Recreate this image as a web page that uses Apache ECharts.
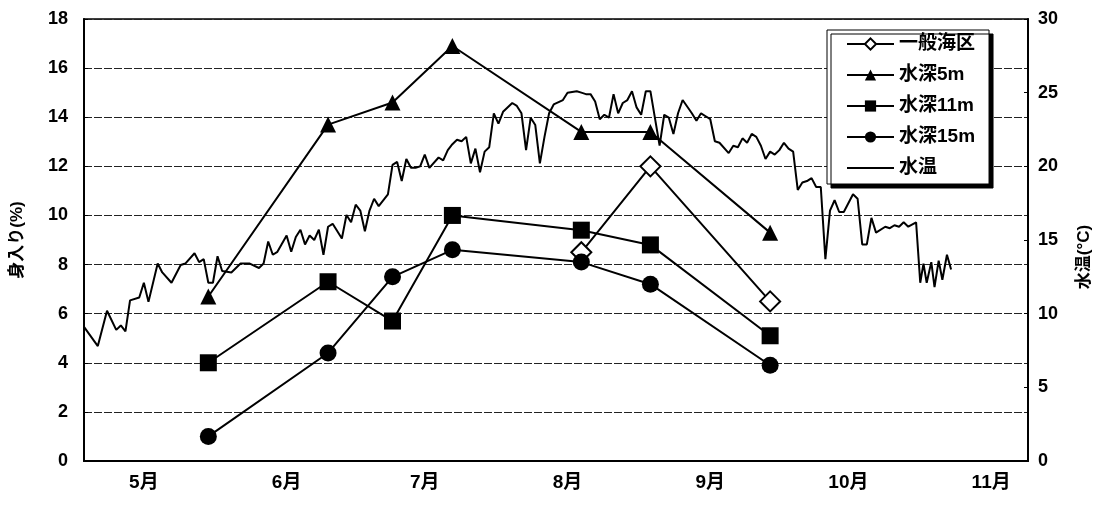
<!DOCTYPE html>
<html>
<head>
<meta charset="utf-8">
<script src="https://cdn.jsdelivr.net/npm/echarts@6/dist/echarts.min.js"></script>
<style>
  html, body { margin: 0; padding: 0; background: #fff; }
  #chart { width: 1101px; height: 506px; }
</style>
</head>
<body>
<div id="chart"></div>
<script>
// x values are day-of-year (non-leap year): 121 = 5/1
const monthStarts = [121, 152, 182, 213, 244, 274, 305];
const monthLabels = ['5月', '6月', '7月', '8月', '9月', '10月', '11月'];

// survey dates (5/15, 6/10, 6/24, 7/7, 8/4, 8/19, 9/14)
const sampleDays = [135, 161, 175, 188, 216, 231, 257];
const generalArea = [null, null, null, null, 8.5, 12.0, 6.5];
const depth5m  = [6.7, 13.7, 14.6, 16.9, 13.4, 13.4, 9.3];
const depth11m = [4.0, 7.3, 5.7, 10.0, 9.4, 8.8, 5.1];
const depth15m = [1.0, 4.4, 7.5, 8.6, 8.1, 7.2, 3.9];

// water temperature record (°C)
const tempDays = [
  108, 111, 113, 115, 116, 117, 118, 120, 121, 122, 124, 125, 127, 129, 130,
  132, 133, 134, 135, 136, 137, 138, 140, 142, 144, 146, 147, 148, 149, 150,
  152, 153, 154, 155, 156, 157, 158, 159, 160, 161, 162, 164, 165, 166, 167,
  168, 169, 170, 171, 172, 174, 175, 176, 177, 178, 179, 180, 181, 182, 183,
  185, 186, 187, 188, 189, 190, 191, 192, 193, 194, 195, 196, 197, 198, 199,
  201, 202, 203, 204, 205, 206, 207, 208, 209, 210, 212, 213, 215, 216, 217,
  218, 219, 220, 221, 222, 223, 224, 225, 226, 227, 228, 229, 230, 231, 233,
  234, 235, 236, 237, 238, 240, 241, 242, 243, 244, 245, 246, 248, 249, 250,
  251, 252, 253, 254, 255, 256, 257, 258, 259, 260, 261, 262, 263, 264, 265,
  266, 267, 268, 269, 270, 271, 272, 273, 275, 276, 277, 278, 279, 280, 282,
  283, 284, 285, 286, 287, 288.7, 289.6, 290.3, 291, 292, 292.7, 293.6, 294.4, 295.4, 296.3
];
const tempValues = [
  9.1, 7.8, 10.2, 8.9, 9.2, 8.8, 10.9, 11.1, 12.1, 10.8, 13.4, 12.8, 12.1, 13.3, 13.4,
  14.1, 13.5, 13.7, 12.1, 12.1, 13.9, 12.9, 12.8, 13.4, 13.4, 13.1, 13.4, 14.9, 14.0, 14.2,
  15.3, 14.2, 15.2, 15.7, 14.7, 15.3, 15.0, 15.7, 14.0, 15.9, 16.1, 15.1, 16.7, 16.2, 17.4,
  17.0, 15.6, 17.0, 17.8, 17.3, 18.1, 20.1, 20.3, 19.0, 20.5, 19.9, 19.9, 20.0, 20.8, 19.9,
  20.6, 20.4, 21.1, 21.5, 21.8, 21.7, 22.0, 20.2, 21.2, 19.6, 21.0, 21.3, 23.6, 22.9, 23.7,
  24.3, 24.1, 23.6, 21.1, 23.3, 22.8, 20.2, 22.0, 23.6, 24.2, 24.5, 25.0, 25.1, 25.0, 24.9,
  24.9, 24.4, 23.2, 23.5, 23.3, 24.9, 23.6, 24.3, 24.5, 25.1, 24.0, 23.5, 25.1, 25.1, 21.4,
  23.5, 23.3, 22.2, 23.6, 24.5, 23.6, 23.1, 23.6, 23.4, 23.2, 21.7, 21.6, 20.9, 21.4, 21.3,
  21.9, 21.6, 22.2, 22.0, 21.4, 20.5, 21.0, 20.8, 21.1, 21.6, 21.2, 21.0, 18.4, 18.9, 19.0,
  19.2, 18.6, 18.6, 13.7, 17.0, 17.7, 16.9, 16.9, 18.1, 17.8, 14.7, 14.7, 16.5, 15.5, 15.9,
  15.8, 16.0, 15.9, 16.2, 15.9, 16.2, 12.1, 13.4, 12.1, 13.5, 11.8, 13.6, 12.3, 14.0, 13.0
];

const FONT = '"Liberation Sans", "Noto Sans CJK JP", sans-serif';

function pairs(days, values) {
  const out = [];
  for (let i = 0; i < days.length; i++) {
    if (values[i] !== null) out.push([days[i], values[i]]);
  }
  return out;
}

const lineStyle = { color: '#000', width: 2 };

const chart = echarts.init(document.getElementById('chart'), null, { renderer: 'canvas' });
chart.setOption({
  animation: false,
  backgroundColor: '#fff',
  textStyle: { fontFamily: FONT },
  grid: {
    left: 84, right: 73, top: 19, bottom: 45,
    show: true, borderColor: '#000', borderWidth: 1.5, backgroundColor: 'transparent'
  },
  legend: {
    orient: 'vertical',
    left: 827, top: 30,
    data: [
      '一般海区', '水深5m', '水深11m', '水深15m',
      { name: '水温', itemStyle: { opacity: 0 } }
    ],
    backgroundColor: '#fff',
    borderColor: '#000', borderWidth: 1,
    shadowColor: '#000', shadowBlur: 0, shadowOffsetX: 4, shadowOffsetY: 4,
    padding: [4, 14, 6, 19],
    itemWidth: 47, itemHeight: 14, itemGap: 11,
    textStyle: { fontFamily: FONT, fontSize: 19, fontWeight: 'bold', color: '#000', lineHeight: 20 }
  },
  xAxis: {
    type: 'value', min: 108, max: 313,
    axisLine: { lineStyle: { color: '#000', width: 2 } },
    axisTick: { show: false },
    splitLine: { show: false },
    axisLabel: {
      customValues: monthStarts,
      formatter: v => monthLabels[monthStarts.indexOf(v)],
      fontFamily: FONT, fontSize: 19, fontWeight: 'bold', color: '#000', margin: 12
    }
  },
  yAxis: [
    {
      type: 'value', min: 0, max: 18, interval: 2,
      name: '身入り(%)', nameLocation: 'middle', nameRotate: 90, nameGap: 58,
      nameTextStyle: { fontFamily: FONT, fontSize: 17, fontWeight: 'bold', color: '#000' },
      axisLine: { show: true, lineStyle: { color: '#000', width: 2 } },
      axisTick: { show: true, inside: true, length: 4, lineStyle: { color: '#000' } },
      axisLabel: { fontFamily: FONT, fontSize: 18, fontWeight: 'bold', color: '#000', margin: 16 },
      splitLine: { show: true, lineStyle: { color: '#222', width: 1, type: [8, 2] } }
    },
    {
      type: 'value', min: 0, max: 30, interval: 5, position: 'right',
      name: '水温(°C)', nameLocation: 'middle', nameRotate: 90, nameGap: 48,
      nameTextStyle: { fontFamily: FONT, fontSize: 17, fontWeight: 'bold', color: '#000', padding: [0, 34, 0, 0] },
      axisLine: { show: true, lineStyle: { color: '#000', width: 2 } },
      axisTick: { show: true, inside: true, length: 4, lineStyle: { color: '#000' } },
      axisLabel: { fontFamily: FONT, fontSize: 18, fontWeight: 'bold', color: '#000', margin: 10 },
      splitLine: { show: false }
    }
  ],
  series: [
    {
      name: '水温', type: 'line', yAxisIndex: 1, z: 1,
      data: pairs(tempDays, tempValues),
      showSymbol: false, symbol: 'none',
      lineStyle: lineStyle, itemStyle: { color: '#000' }
    },
    {
      name: '一般海区', type: 'line', z: 3,
      data: pairs(sampleDays, generalArea),
      symbol: 'diamond', symbolSize: 20,
      lineStyle: lineStyle,
      itemStyle: { color: '#fff', borderColor: '#000', borderWidth: 2 }
    },
    {
      name: '水深5m', type: 'line', z: 3,
      data: pairs(sampleDays, depth5m),
      symbol: 'triangle', symbolSize: 16,
      lineStyle: lineStyle, itemStyle: { color: '#000' }
    },
    {
      name: '水深11m', type: 'line', z: 3,
      data: pairs(sampleDays, depth11m),
      symbol: 'rect', symbolSize: 17,
      lineStyle: lineStyle, itemStyle: { color: '#000' }
    },
    {
      name: '水深15m', type: 'line', z: 3,
      data: pairs(sampleDays, depth15m),
      symbol: 'circle', symbolSize: 17,
      lineStyle: lineStyle, itemStyle: { color: '#000' }
    }
  ]
});
</script>
</body>
</html>
